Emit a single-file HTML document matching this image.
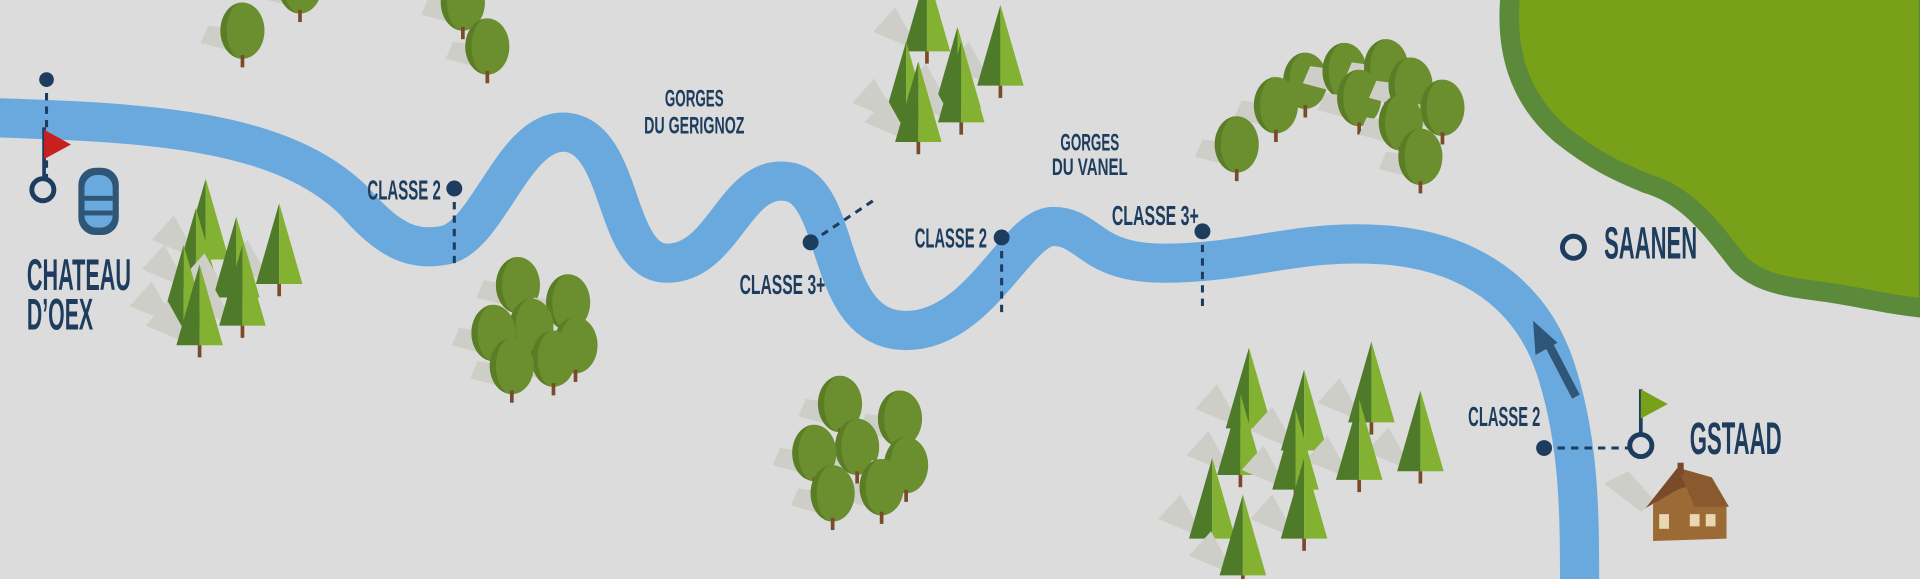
<!DOCTYPE html>
<html><head><meta charset="utf-8"><style>
html,body{margin:0;padding:0;background:#dcdcdc;}
svg{display:block}
text{font-family:"Liberation Sans Narrow","Liberation Sans",sans-serif;font-weight:bold;fill:#1d3c5e}
</style></head><body>
<svg width="1920" height="579" viewBox="0 0 1568 473" preserveAspectRatio="none" xmlns="http://www.w3.org/2000/svg">
<defs>
<g id="rt">
  <path d="M-4 18 L-34 10 L-28 -4 L2 0 Z" fill="#cdcec7"/>
  <ellipse cx="0" cy="0" rx="18" ry="23" fill="#6b8e2f"/>
  <path d="M0 -23 A18 23 0 0 0 0 23 A13 23 0 0 1 0 -23Z" fill="#5a7d26"/>
  <rect x="-1.5" y="20" width="3" height="10" fill="#7a4b2a"/>
</g>
<g id="pn">
  <path d="M-6 0 L-44 -16 L-26 -36 Z" fill="#cdcec7"/>
  <polygon points="0,-66 -19,0 0,0" fill="#4f7a2a"/>
  <polygon points="0,-66 19,0 0,0" fill="#83b131"/>
  <rect x="-1.5" y="0" width="3" height="10" fill="#7a4b2a"/>
</g>
</defs>
<rect width="1568" height="473" fill="#dcdcdc"/>
<path d="M1234 -10 C1228 40 1240 80 1275 110 C1300 130 1320 140 1345 150 C1380 160 1400 190 1420 215 C1440 235 1470 235 1500 240 C1530 245 1550 250 1575 252 L1575 -10 Z" fill="#78a019" stroke="#5a8a3a" stroke-width="16"/>
<path d="M-10 96 C120 100 230 105 290 165 C320 200 340 205 365 200 C400 190 420 105 462 108 C510 112 500 215 545 215 C590 215 600 145 640 148 C690 150 670 270 740 270 C800 270 830 185 860 185 C890 185 890 215 950 215 C1020 215 1060 195 1130 200 C1200 205 1250 240 1270 300 C1290 360 1290 420 1290 480" fill="none" stroke="#6aa9de" stroke-width="32"/>
<g>
<use href="#rt" x="198" y="25"/><use href="#rt" x="378" y="2"/><use href="#rt" x="398" y="38"/><use href="#rt" x="245" y="-12"/>
<use href="#rt" x="423" y="233"/><use href="#rt" x="464" y="247"/><use href="#rt" x="434" y="267"/><use href="#rt" x="403" y="272"/><use href="#rt" x="470" y="282"/><use href="#rt" x="452" y="293"/><use href="#rt" x="418" y="299"/>
<use href="#rt" x="686" y="330"/><use href="#rt" x="735" y="342"/><use href="#rt" x="700" y="365"/><use href="#rt" x="665" y="370"/><use href="#rt" x="740" y="380"/><use href="#rt" x="720" y="398"/><use href="#rt" x="680" y="403"/>
<use href="#rt" x="1066" y="66"/><use href="#rt" x="1098" y="58"/><use href="#rt" x="1132" y="55"/><use href="#rt" x="1042" y="86"/><use href="#rt" x="1110" y="80"/><use href="#rt" x="1152" y="70"/><use href="#rt" x="1178" y="88"/><use href="#rt" x="1144" y="100"/><use href="#rt" x="1010" y="118"/><use href="#rt" x="1160" y="128"/>
</g>
<g>
<use href="#pn" x="168" y="212"/><use href="#pn" x="228" y="232"/><use href="#pn" x="160" y="236"/><use href="#pn" x="193" y="243"/><use href="#pn" x="150" y="266"/><use href="#pn" x="198" y="266"/><use href="#pn" x="163" y="282"/>
<use href="#pn" x="757" y="42"/><use href="#pn" x="817" y="70"/><use href="#pn" x="782" y="88"/><use href="#pn" x="740" y="100"/><use href="#pn" x="785" y="100"/><use href="#pn" x="750" y="116"/>
<use href="#pn" x="1120" y="345"/><use href="#pn" x="1020" y="350"/><use href="#pn" x="1065" y="368"/><use href="#pn" x="1160" y="385"/><use href="#pn" x="1013" y="388"/><use href="#pn" x="1110" y="392"/><use href="#pn" x="1058" y="400"/><use href="#pn" x="990" y="440"/><use href="#pn" x="1065" y="440"/><use href="#pn" x="1015" y="470"/>
</g>
<g stroke="#1d3c5e" stroke-width="2.5" stroke-dasharray="6 5" fill="none">
<line x1="38" y1="65" x2="38" y2="150"/>
<line x1="371" y1="154" x2="371" y2="216"/>
<line x1="662" y1="198" x2="716" y2="162"/>
<line x1="818" y1="194" x2="818" y2="258"/>
<line x1="982" y1="189" x2="982" y2="252"/>
<line x1="1261" y1="366" x2="1330" y2="366"/>
</g>
<g fill="#1d3c5e">
<circle cx="38" cy="65" r="6"/><circle cx="371" cy="154" r="6.5"/><circle cx="662" cy="198" r="6.5"/><circle cx="818" cy="194" r="6.5"/><circle cx="982" cy="189" r="6.5"/><circle cx="1261" cy="366" r="6.5"/>
</g>
<g fill="none" stroke="#1d3c5e" stroke-width="4">
<circle cx="35" cy="155" r="9"/><circle cx="1285" cy="202" r="9"/><circle cx="1340" cy="364" r="9"/>
</g>
<line x1="36" y1="104" x2="36" y2="146" stroke="#1d3c5e" stroke-width="3"/>
<polygon points="36,106 58,118 36,130" fill="#c8201e"/>
<line x1="1340" y1="318" x2="1340" y2="355" stroke="#1d3c5e" stroke-width="3"/>
<polygon points="1340,318 1362,330 1340,342" fill="#78a019"/>
<rect x="64" y="137" width="33" height="55" rx="14" fill="#2f5577"/>
<rect x="69" y="143" width="23" height="43" rx="10" fill="#6aa9de"/>
<rect x="69" y="160" width="23" height="4" fill="#2f5577"/><rect x="69" y="172" width="23" height="4" fill="#2f5577"/>
<line x1="1287" y1="324" x2="1262" y2="276" stroke="#2f5577" stroke-width="7"/>
<polygon points="1252,262 1272,280 1254,290" fill="#2f5577"/>
<path d="M1340 418 L1310 395 L1330 385 L1352 410Z" fill="#cdcec7"/>
<polygon points="1350,412 1378,385 1400,395 1410,412 1410,440 1350,442" fill="#9b6a35"/>
<polygon points="1344,415 1370,382 1395,392 1370,400" fill="#7a4b2a"/>
<polygon points="1370,382 1398,390 1412,414 1384,414" fill="#8a5a2e"/>
<rect x="1370" y="378" width="5" height="10" fill="#7a4b2a"/>
<rect x="1355" y="420" width="8" height="12" fill="#e8d7b0"/><rect x="1380" y="420" width="8" height="10" fill="#e8d7b0"/><rect x="1393" y="420" width="8" height="10" fill="#e8d7b0"/>
<text x="22" y="237" font-size="36" textLength="85" lengthAdjust="spacingAndGlyphs">CHATEAU</text>
<text x="22" y="269" font-size="36" textLength="54" lengthAdjust="spacingAndGlyphs">D’OEX</text>
<text x="300" y="163" font-size="23" textLength="60" lengthAdjust="spacingAndGlyphs">CLASSE 2</text>
<text x="543" y="87" font-size="20" textLength="48" lengthAdjust="spacingAndGlyphs">GORGES</text>
<text x="526" y="109" font-size="20" textLength="82" lengthAdjust="spacingAndGlyphs">DU GERIGNOZ</text>
<text x="604" y="240" font-size="23" textLength="70" lengthAdjust="spacingAndGlyphs">CLASSE 3+</text>
<text x="747" y="202" font-size="23" textLength="59" lengthAdjust="spacingAndGlyphs">CLASSE 2</text>
<text x="866" y="123" font-size="20" textLength="48" lengthAdjust="spacingAndGlyphs">GORGES</text>
<text x="859" y="143" font-size="20" textLength="62" lengthAdjust="spacingAndGlyphs">DU VANEL</text>
<text x="908" y="184" font-size="23" textLength="71" lengthAdjust="spacingAndGlyphs">CLASSE 3+</text>
<text x="1310" y="211" font-size="37" textLength="76" lengthAdjust="spacingAndGlyphs">SAANEN</text>
<text x="1199" y="348" font-size="23" textLength="59" lengthAdjust="spacingAndGlyphs">CLASSE 2</text>
<text x="1380" y="371" font-size="37" textLength="75" lengthAdjust="spacingAndGlyphs">GSTAAD</text>
</svg>
</body></html>
